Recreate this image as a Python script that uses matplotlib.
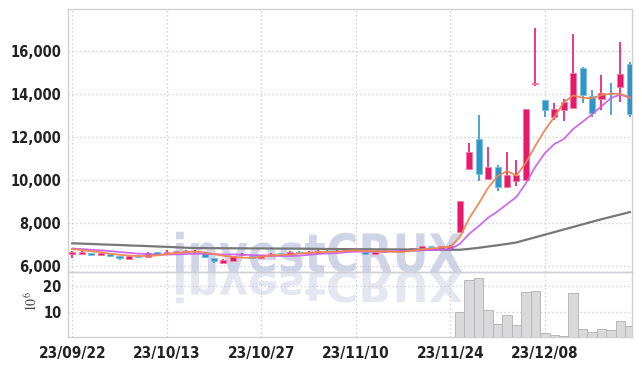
import numpy as np
import pandas as pd
import matplotlib
matplotlib.use("Agg")
import matplotlib.pyplot as plt
from matplotlib.textpath import TextPath
from matplotlib.patches import PathPatch
from matplotlib.font_manager import FontProperties, fontManager
from matplotlib.transforms import Affine2D

# ---------------- data ----------------
holidays = ["2023-09-28", "2023-09-29", "2023-10-02", "2023-10-03", "2023-10-09"]
dates = pd.bdate_range("2023-09-22", "2023-12-21", freq="C", holidays=holidays)

opens = [6580, 6560, 6630, 6540, 6560, 6480, 6350, 6490, 6420, 6665,
         6640, 6650, 6680, 6690, 6585, 6385, 6170, 6260, 6520, 6470,
         6370, 6490, 6610, 6570, 6680, 6640, 6640, 6730, 6700, 6690,
         6760, 6660, 6550, 6680, 6700, 6720, 6770, 6830, 6940, 6820,
         6800, 7610, 10530, 11910, 10060, 10630, 9700, 9980, 10010, 14500,
         13735, 12960, 13270, 13380, 15220, 13920, 13800, 14070, 14350, 15410]
closes = [6660, 6660, 6540, 6600, 6470, 6400, 6465, 6450, 6630, 6590,
          6680, 6700, 6730, 6710, 6430, 6260, 6310, 6465, 6560, 6380,
          6510, 6570, 6600, 6680, 6610, 6650, 6720, 6690, 6710, 6830,
          6740, 6550, 6660, 6700, 6710, 6740, 6840, 6940, 6880, 6930,
          6960, 9050, 11330, 10290, 10620, 9670, 10250, 10250, 13320, 14540,
          13270, 13300, 13640, 15000, 13970, 13140, 14050, 14010, 14940, 13080]
highs = [6700, 6690, 6640, 6620, 6570, 6490, 6480, 6540, 6660, 6680,
         6760, 6720, 6760, 6740, 6600, 6400, 6330, 6480, 6600, 6490,
         6530, 6600, 6640, 6700, 6690, 6700, 6740, 6740, 6740, 6840,
         6780, 6670, 6680, 6720, 6730, 6760, 6860, 6960, 6950, 6950,
         6990, 9060, 11720, 13040, 11530, 10700, 11300, 10930, 13330, 17070,
         13740, 13580, 13800, 16800, 15280, 14200, 14880, 14510, 16430, 15520]
lows = [6400, 6540, 6520, 6480, 6450, 6310, 6340, 6380, 6410, 6540,
        6630, 6640, 6670, 6600, 6400, 6170, 6160, 6250, 6500, 6360,
        6360, 6480, 6560, 6560, 6600, 6620, 6630, 6680, 6680, 6680,
        6730, 6540, 6540, 6670, 6690, 6710, 6760, 6820, 6870, 6800,
        6780, 7600, 10480, 9980, 10040, 9520, 9650, 9740, 10000, 14390,
        12960, 12800, 12770, 13350, 13580, 12960, 13270, 13040, 13660, 12960]
# volume in millions of shares
volumes = [0.20, 0.15, 0.12, 0.10, 0.14, 0.18, 0.15, 0.10, 0.20, 0.12,
           0.10, 0.09, 0.11, 0.10, 0.13, 0.20, 0.15, 0.17, 0.10, 0.12,
           0.14, 0.12, 0.08, 0.10, 0.09, 0.08, 0.10, 0.09, 0.08, 0.12,
           0.08, 0.10, 0.11, 0.07, 0.06, 0.08, 0.10, 0.15, 0.09, 0.10,
           0.20, 9.7, 22.2, 23.0, 10.5, 5.2, 8.5, 4.7, 17.5, 17.9,
           1.5, 0.8, 0.6, 17.1, 3.1, 2.1, 3.1, 2.7, 6.2, 4.3]
# closes of the 9 sessions before the first shown one (for the moving averages)
prior_closes = [6880, 6850, 6870, 6820, 6850, 6830, 6860, 6800, 6820]
# 60-day moving average
ma60 = [7070, 7055, 7040, 7020, 7005, 6990, 6970, 6955, 6940, 6920,
        6905, 6885, 6865, 6850, 6845, 6843, 6840, 6838, 6835, 6832,
        6830, 6828, 6825, 6822, 6820, 6815, 6810, 6805, 6800, 6798,
        6795, 6793, 6790, 6788, 6785, 6783, 6780, 6778, 6775, 6772,
        6768, 6770, 6810, 6860, 6920, 6980, 7040, 7110, 7230, 7350,
        7470, 7590, 7710, 7830, 7950, 8070, 8190, 8300, 8410, 8520]

price_ticks = [6000, 8000, 10000, 12000, 14000, 16000]
volume_ticks = [10, 20]
tick_every = 10

# ---------------- fonts ----------------
def pick_condensed():
    cands = []
    for f in fontManager.ttflist:
        nm = f.name.lower()
        st = str(f.stretch).lower()
        fn = f.fname.lower()
        narrow = ("condensed" in nm or "narrow" in nm or "condensed" in st
                  or "condensed" in fn or "narrow" in fn)
        if narrow:
            w = f.weight if isinstance(f.weight, int) else (700 if "bold" in str(f.weight) else 400)
            cands.append((abs(w - 700), f.fname))
    if cands:
        cands.sort()
        return FontProperties(fname=cands[0][1])
    return None

cond = pick_condensed()
if cond is not None:
    def tick_fp(size):
        p = cond.copy()
        p.set_size(size)
        return p
    ysize, xsize = 10.5, 11
else:
    def tick_fp(size):
        return FontProperties(family="Roboto", weight="bold", size=size)
    ysize, xsize = 9.5, 10

# ---------------- style ----------------
UP = "#e8196a"
UP_EDGE = "#f27aa5"
DOWN = "#2f96c9"
DOWN_EDGE = "#7cbde0"
GRID = "#c4c6da"
SPINE = "#d0d0d6"

fig = plt.figure(figsize=(6.42, 3.66), dpi=100)
fig.patch.set_facecolor("white")

L, R = 68.3 / 642, 632.3 / 642
T1, B1 = 1 - 9.3 / 366, 1 - 272.3 / 366
B2 = 1 - 337.3 / 366
ax = fig.add_axes([L, B1, R - L, T1 - B1])
axv = fig.add_axes([L, B2, R - L, B1 - B2], sharex=ax)
for a in (ax, axv):
    a.set_facecolor("none")
    for s in a.spines.values():
        s.set_color(SPINE)
        s.set_linewidth(1.0)
    a.grid(True, color=GRID, linestyle=(0, (1, 2.2)), linewidth=0.9)
    a.set_axisbelow(True)

# watermark with reflection
fp = FontProperties(family="DejaVu Sans", weight="bold")
tp = TextPath((0, 0), "investCRUX", size=100, prop=fp)
ext = tp.get_extents()
wx0, wbase = 176 / 642, 1 - 272.0 / 366
sx = (286 / 642) / ext.width
sy = (41 / 366) / ext.height
tr_main = Affine2D().translate(-ext.x0, 0).scale(sx, sy).translate(wx0, wbase) + fig.transFigure
tr_ref = Affine2D().translate(-ext.x0, 0).scale(sx, -0.78 * sy).translate(wx0, wbase) + fig.transFigure
fig.add_artist(PathPatch(tp, transform=tr_main, facecolor="#cfd5e7", edgecolor="none", zorder=-5))
fig.add_artist(PathPatch(tp, transform=tr_ref, facecolor="#e4e6f0", edgecolor="none", zorder=-5))

x = np.arange(len(dates))
o = np.array(opens, float)
c = np.array(closes, float)
h = np.array(highs, float)
lo = np.array(lows, float)
up = c >= o
col = np.where(up, UP, DOWN)
ecol = np.where(up, UP_EDGE, DOWN_EDGE)

all_close = pd.Series(prior_closes + closes, dtype=float)
n0 = len(prior_closes)
ma5 = all_close.rolling(5).mean().iloc[n0:].to_numpy()
ma10 = all_close.rolling(10).mean().iloc[n0:].to_numpy()

ax.vlines(x, lo, h, colors=col, linewidth=1.2, zorder=3)
ax.bar(x, np.abs(c - o), bottom=np.minimum(o, c), width=0.64, color=col,
       edgecolor=ecol, linewidth=0.6, zorder=4)

ax.plot(x, ma60, color="#777777", linewidth=1.6, zorder=5)
ax.plot(x, ma10, color="#c95be8", linewidth=1.3, alpha=0.9, zorder=6)
ax.plot(x, ma5, color="#ef8552", linewidth=1.3, alpha=0.95, zorder=7)

axv.bar(x, volumes, width=1.0, color="#d9d9db", edgecolor="#b8b8bc", linewidth=0.7, zorder=3)

ax.set_xlim(-0.42, 59.26)
ax.set_ylim(5721, 17953)
axv.set_ylim(0, 25.3)

ax.set_yticks(price_ticks)
ax.set_yticklabels([f"{v:,}" for v in price_ticks], color="#222222", fontproperties=tick_fp(ysize))
axv.set_yticks(volume_ticks)
axv.set_yticklabels([str(v) for v in volume_ticks], color="#222222", fontproperties=tick_fp(ysize))
tick_pos = x[::tick_every]
axv.set_xticks(tick_pos)
axv.set_xticklabels([d.strftime("%y/%m/%d") for d in dates[::tick_every]],
                    color="#222222", fontproperties=tick_fp(xsize))
ax.tick_params(axis="x", labelbottom=False, length=0)
ax.tick_params(axis="y", length=0, pad=5)
axv.tick_params(axis="both", length=0)
axv.tick_params(axis="y", pad=5)
axv.tick_params(axis="x", pad=6)

plt.rcParams["mathtext.fontset"] = "stix"
fig.text(32 / 642, 1 - 302 / 366, r"$10^{6}$", rotation=90, ha="center", va="center",
         fontsize=10, color="#444444")

fig.savefig("out.png", dpi=100, facecolor="white")
